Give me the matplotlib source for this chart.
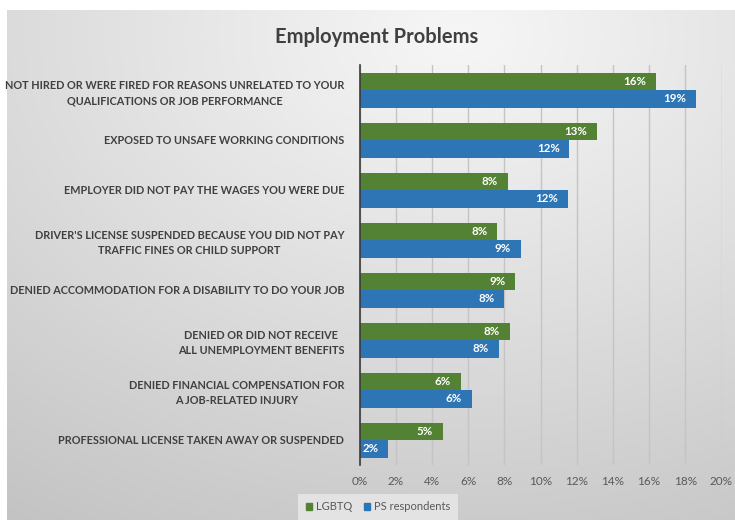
import numpy as np
import matplotlib
matplotlib.use("Agg")
import matplotlib.pyplot as plt
from matplotlib import font_manager
from matplotlib.patches import Rectangle

# Survey data (% of respondents reporting each problem)
categories = [
    "NOT HIRED OR WERE FIRED FOR REASONS UNRELATED TO YOUR\nQUALIFICATIONS OR JOB PERFORMANCE",
    "EXPOSED TO UNSAFE WORKING CONDITIONS",
    "EMPLOYER DID NOT PAY THE WAGES YOU WERE DUE",
    "DRIVER'S LICENSE SUSPENDED BECAUSE YOU DID NOT PAY\nTRAFFIC FINES OR CHILD SUPPORT",
    "DENIED ACCOMMODATION FOR A DISABILITY TO DO YOUR JOB",
    "DENIED OR DID NOT RECEIVE\nALL UNEMPLOYMENT BENEFITS",
    "DENIED FINANCIAL COMPENSATION FOR\nA JOB-RELATED INJURY",
    "PROFESSIONAL LICENSE TAKEN AWAY OR SUSPENDED",
]
lgbtq = [16.4, 13.1, 8.2, 7.6, 8.6, 8.3, 5.6, 4.6]
ps_respondents = [18.6, 11.6, 11.5, 8.9, 8.0, 7.7, 6.2, 1.6]
series_names = ["LGBTQ", "PS respondents"]
x_ticks = [0, 2, 4, 6, 8, 10, 12, 14, 16, 18, 20]

GREEN = "#548235"
BLUE = "#2E75B6"
TEXT = "#404040"
TICK = "#595959"

available = {f.name for f in font_manager.fontManager.ttflist}
body = "Lato" if "Lato" in available else "DejaVu Sans"

fig = plt.figure(figsize=(7.35, 5.2), dpi=100)
fig.patch.set_facecolor("white")

# Gray gradient panel behind the chart
bg = fig.add_axes([7 / 735, 0, 728 / 735, 510 / 520], zorder=-10)
H, W = 255, 364
yy, xx = np.mgrid[0:H, 0:W]
cx, cy = 0.62 * W, 0.05 * H
d = np.sqrt(((xx - cx) / W) ** 2 + ((yy - cy) / H) ** 2)
d = d / d.max()
val = 0.965 - 0.2 * d ** 1.05
bg.imshow(np.dstack([val, val, val]), aspect="auto", extent=[0, 1, 0, 1], interpolation="bilinear")
bg.set_axis_off()

ax = fig.add_axes([359.5 / 735, 1 - 465 / 520, 362 / 735, 400 / 520])
ax.set_facecolor("none")

n = len(categories)
y = np.arange(n)
h = 0.35
bars_g = ax.barh(y - h / 2, lgbtq, height=h, color=GREEN, zorder=3)
bars_b = ax.barh(y + h / 2, ps_respondents, height=h, color=BLUE, zorder=3)

for bars, vals in ((bars_g, lgbtq), (bars_b, ps_respondents)):
    for bar, v in zip(bars, vals):
        ax.annotate(f"{v:.0f}%", xy=(v, bar.get_y() + bar.get_height() / 2),
                    xytext=(-7, 0), textcoords="offset points",
                    ha="right", va="center", color="white",
                    fontsize=8.3, fontweight="bold", family=body, zorder=4)

ax.set_xlim(0, 20)
ax.set_ylim(n - 0.5, -0.5)
ax.set_xticks(x_ticks)
ax.set_xticklabels([f"{t}%" for t in x_ticks], color=TICK, fontsize=8.5, family=body)
ax.tick_params(axis="x", length=0, pad=8)
ax.set_yticks(y)
ax.set_yticklabels(categories, fontsize=8, fontweight="bold", color=TEXT,
                   family=body, multialignment="center", linespacing=1.45)
ax.tick_params(axis="y", length=0, pad=11)
ax.grid(axis="x", color="#c4c4c4", linewidth=1.0, zorder=0)
for s in ("top", "right", "bottom"):
    ax.spines[s].set_visible(False)
ax.spines["left"].set_color("#3a3a3a")
ax.spines["left"].set_linewidth(1.2)
ax.spines["left"].set_zorder(5)

# Shrink the category labels so the widest one fits between the panel edge and the axis
fig.canvas.draw()
renderer = fig.canvas.get_renderer()
widest = max(t.get_window_extent(renderer).width for t in ax.get_yticklabels())
room = 338.0
if widest > room:
    for t in ax.get_yticklabels():
        t.set_fontsize(8 * room / widest)

fig.text(377 / 735, 1 - 37 / 520, "Employment Problems", ha="center", va="center",
         fontsize=14.5, fontweight="bold", color=TEXT, family=body)

handles = [Rectangle((0, 0), 1, 1, color=GREEN), Rectangle((0, 0), 1, 1, color=BLUE)]
leg = fig.legend(handles, series_names, loc="center", bbox_to_anchor=(378 / 735, 1 - 507 / 520),
                 ncol=2, frameon=True, handlelength=0.55, handleheight=0.55,
                 handletextpad=0.35, columnspacing=1.0, borderpad=0.4,
                 prop={"family": body, "size": 8})
leg.get_frame().set_facecolor("#e6e6e6")
leg.get_frame().set_edgecolor("none")
leg.get_frame().set_boxstyle("square")
leg.get_frame().set_alpha(0.9)
for t in leg.get_texts():
    t.set_color(TICK)

fig.savefig("out.png", dpi=100)
